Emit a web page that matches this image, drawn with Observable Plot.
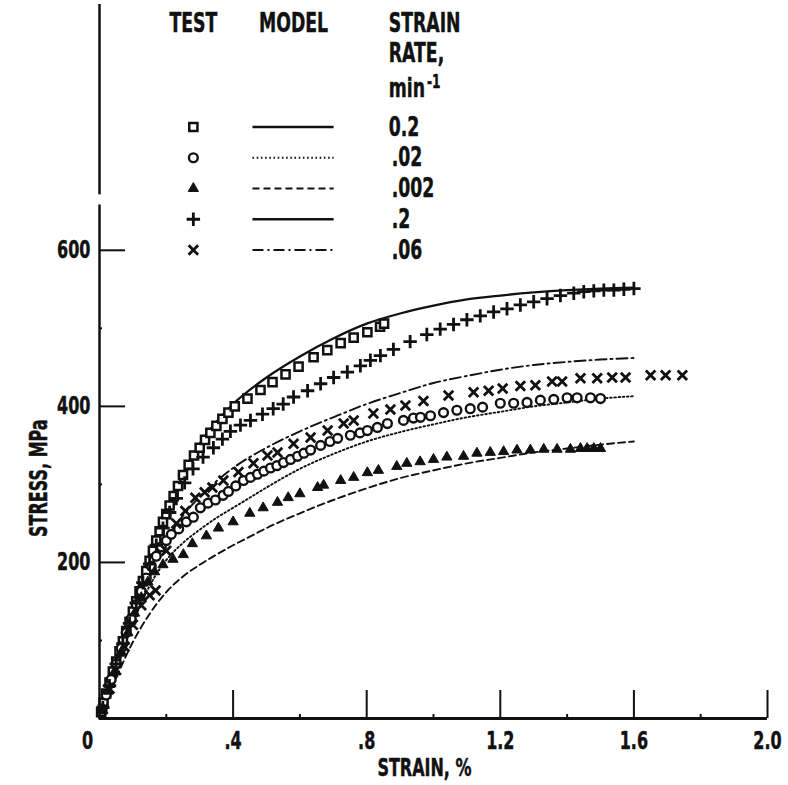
<!DOCTYPE html>
<html><head><meta charset="utf-8">
<script src="https://cdn.jsdelivr.net/npm/d3@7"></script>
<script src="https://cdn.jsdelivr.net/npm/@observablehq/plot@0.6"></script>
<style>
body{margin:0;background:#fff;}
#chart svg{display:block;}
</style></head><body><div id="chart"></div>
<script>
// ---- data: [strain %, stress MPa] ----
const squareTest = [[0.005,8],[0.012,20],[0.02,32],[0.03,46],[0.04,60],[0.05,73],[0.06,86],[0.07,99],[0.08,112],[0.09,124],[0.1,137],[0.11,150],[0.12,163],[0.13,176],[0.14,189],[0.15,202],[0.16,215],[0.17,228],[0.18,240],[0.19,252],[0.2,262],[0.21,273],[0.222,285],[0.235,298],[0.25,312],[0.267,325],[0.283,337],[0.3,347],[0.316,357],[0.332,366],[0.35,375],[0.368,384],[0.386,392],[0.405,400],[0.443,410],[0.482,421],[0.518,431],[0.557,441],[0.596,451],[0.641,463],[0.682,472],[0.722,481],[0.761,488],[0.802,495],[0.84,502],[0.852,506]];
const circleTest = [[0.008,12],[0.02,30],[0.035,50],[0.05,70],[0.065,90],[0.08,110],[0.095,128],[0.11,146],[0.125,163],[0.14,180],[0.155,195],[0.17,208],[0.185,220],[0.2,228],[0.215,236],[0.237,243],[0.26,252],[0.281,258],[0.302,270],[0.325,276],[0.347,280],[0.37,286],[0.386,291],[0.408,298],[0.431,305],[0.452,309],[0.473,313],[0.492,317],[0.512,321],[0.531,324],[0.551,328],[0.572,332],[0.593,336],[0.612,340],[0.632,344],[0.662,350],[0.69,355],[0.713,359],[0.751,363],[0.78,366],[0.802,369],[0.832,373],[0.862,378],[0.91,382],[0.94,385],[0.961,386],[0.991,388],[1.03,392],[1.07,395],[1.11,397],[1.147,399],[1.2,404],[1.24,404],[1.28,405],[1.32,408],[1.36,409],[1.4,411],[1.43,411],[1.47,411],[1.5,410]];
const triangleTest = [[0.008,12],[0.025,35],[0.045,60],[0.065,85],[0.085,110],[0.105,135],[0.125,155],[0.145,175],[0.165,188],[0.19,197],[0.22,204],[0.251,210],[0.278,224],[0.32,234],[0.356,244],[0.4,252],[0.45,263],[0.49,270],[0.533,277],[0.565,283],[0.6,288],[0.653,296],[0.671,299],[0.722,305],[0.761,309],[0.802,315],[0.835,318],[0.89,323],[0.92,327],[0.96,329],[1.0,332],[1.04,335],[1.09,336],[1.13,340],[1.17,341],[1.21,342],[1.25,344],[1.29,344],[1.33,345],[1.37,345],[1.41,345],[1.44,346],[1.46,346],[1.48,346],[1.5,346]];
const plusTest = [[0.01,14],[0.03,42],[0.05,70],[0.07,96],[0.09,122],[0.11,148],[0.13,174],[0.15,198],[0.17,222],[0.19,244],[0.21,264],[0.23,282],[0.255,302],[0.28,320],[0.31,335],[0.341,347],[0.368,358],[0.392,368],[0.422,376],[0.452,382],[0.488,390],[0.52,397],[0.55,403],[0.581,412],[0.623,420],[0.662,429],[0.701,437],[0.742,444],[0.781,452],[0.811,459],[0.841,465],[0.88,473],[0.93,483],[0.98,492],[1.02,499],[1.06,505],[1.1,511],[1.14,516],[1.18,521],[1.22,525],[1.26,530],[1.3,534],[1.34,538],[1.38,542],[1.42,545],[1.45,547],[1.48,548],[1.51,549],[1.54,549],[1.57,550],[1.6,551]];
const timesTest = [[0.01,12],[0.03,38],[0.05,62],[0.075,92],[0.1,120],[0.125,145],[0.15,158],[0.168,164],[0.2,215],[0.23,250],[0.257,266],[0.287,283],[0.315,290],[0.338,296],[0.371,305],[0.416,316],[0.461,327],[0.503,337],[0.533,341],[0.581,352],[0.632,360],[0.683,369],[0.731,378],[0.761,382],[0.82,391],[0.871,396],[0.916,401],[0.97,407],[1.045,414],[1.12,418],[1.165,420],[1.207,423],[1.26,426],[1.305,427],[1.355,432],[1.385,432],[1.44,436],[1.49,436],[1.535,437],[1.575,437],[1.65,440],[1.695,440],[1.745,440]];

const model02 = [[0,0],[0.05,70],[0.1,140],[0.15,205],[0.2,262],[0.25,312],[0.3,352],[0.35,380],[0.4,403],[0.5,437],[0.6,464],[0.7,487],[0.8,506],[0.9,519],[1.0,529],[1.1,537],[1.2,542],[1.3,546],[1.4,549],[1.5,551],[1.6,552]];
const model002 = [[0,0],[0.05,62],[0.1,122],[0.15,170],[0.2,203],[0.25,225],[0.3,242],[0.35,257],[0.4,270],[0.45,283],[0.5,296],[0.6,320],[0.7,339],[0.8,355],[0.9,367],[1.0,377],[1.1,386],[1.2,393],[1.3,400],[1.4,405],[1.5,410],[1.6,413]];
const model0002 = [[0,0],[0.05,52],[0.1,98],[0.15,134],[0.2,162],[0.25,182],[0.3,197],[0.35,210],[0.4,222],[0.45,233],[0.5,244],[0.6,263],[0.7,280],[0.8,295],[0.9,308],[1.0,318],[1.1,327],[1.2,334],[1.3,341],[1.4,346],[1.5,351],[1.6,355]];
const model006 = [[0,0],[0.05,65],[0.1,125],[0.15,183],[0.2,228],[0.25,260],[0.3,284],[0.35,304],[0.4,321],[0.5,347],[0.6,368],[0.7,386],[0.8,403],[0.9,417],[1.0,430],[1.1,439],[1.2,447],[1.3,453],[1.4,457],[1.5,460],[1.6,462]];

const rateLabels = ["0.2", ".02", ".002", ".2", ".06"];
const headerRate = ["STRAIN", "RATE,", "min"];
const headerSup = "-1";
const xTickValues = [0.4, 0.8, 1.2, 1.6, 2.0];
const xTickLabels = [".4", ".8", "1.2", "1.6", "2.0"];
const xMinorTicks = [0.2, 0.6, 1.0, 1.4, 1.8];
const yTickValues = [200, 400, 600];
const yMinorTicks = [100, 300, 500];

// ---- layout / styles ----
const W = 788, H = 785, mL = 99, mR = 21, mT = 4, mB = 67;
const xMax = 2.0, yMax = 915;
const pxX = (W - mL - mR) / xMax, pxY = (H - mT - mB) / yMax;
const FONT = "'DejaVu Sans',sans-serif";
const SQUEEZE = 0.64;   // horizontal condensing of lettering
const INK = "#111";

const toPts = a => a.map(([x, y]) => ({x, y}));
const series = [
  {test: squareTest, model: model02, symbol: "square", dash: null},
  {test: circleTest, model: model002, symbol: "circle", dash: "1.6,2.6"},
  {test: triangleTest, model: model0002, symbol: "triangle", dash: "7,4"},
  {test: plusTest, model: model02, symbol: "plus", dash: null},
  {test: timesTest, model: model006, symbol: "times", dash: "11,4,2,4"}
];
const symStyle = {
  square: {r: 4.6, fill: "#fff", stroke: INK, strokeWidth: 2.5},
  circle: {r: 4.4, fill: "#fff", stroke: INK, strokeWidth: 2.4},
  triangle: {r: 3.8, fill: INK, stroke: INK, strokeWidth: 1},
  plus: {r: 4.4, fill: "none", stroke: INK, strokeWidth: 2.8},
  times: {r: 4.4, fill: "none", stroke: INK, strokeWidth: 2.8}
};

const marks = [];
// model curves (the 0.2 model is shared by both 0.2 rate tests)
const drawnModels = new Set();
for (const s of series) {
  if (drawnModels.has(s.model)) continue;
  drawnModels.add(s.model);
  marks.push(Plot.line(toPts(s.model), {x: "x", y: "y", curve: "monotone-x", stroke: INK,
    strokeWidth: s.dash ? 1.9 : 2.3, strokeDasharray: s.dash || undefined}));
}
// test points
for (const s of series) {
  marks.push(Plot.dot(toPts(s.test), {x: "x", y: "y", symbol: s.symbol, ...symStyle[s.symbol]}));
}

// axes lines (y axis broken behind the legend)
marks.push(Plot.ruleY([0], {x1: 0, x2: xMax, stroke: INK, strokeWidth: 3}));
marks.push(Plot.ruleX([0], {y1: 0, y2: 658, stroke: INK, strokeWidth: 2.5}));
marks.push(Plot.ruleX([0], {y1: 671, y2: yMax, stroke: INK, strokeWidth: 2.5}));
// ticks (inward)
marks.push(Plot.ruleX(xTickValues, {x: d => d, y1: 0, y2: 28 / pxY, stroke: INK, strokeWidth: 2}));
marks.push(Plot.ruleX(xMinorTicks, {x: d => d, y1: 0, y2: 4 / pxY, stroke: INK, strokeWidth: 2}));
marks.push(Plot.ruleY(yTickValues, {y: d => d, x1: 0, x2: 26 / pxX, stroke: INK, strokeWidth: 2}));
marks.push(Plot.ruleY(yMinorTicks, {y: d => d, x1: 0, x2: 3 / pxX, stroke: INK, strokeWidth: 2}));
// tick labels
const tickFont = {fontFamily: FONT, fontWeight: "bold", fontSize: 25, fill: INK, stroke: INK, strokeWidth: 0.5};
marks.push(Plot.text(xTickValues, {x: d => d, y: 0, text: (d, i) => xTickLabels[i], dy: 22, lineAnchor: "middle", ...tickFont}));
marks.push(Plot.text([0], {x: 0, y: 0, text: () => "0", dx: -12, dy: 22, lineAnchor: "middle", ...tickFont}));
marks.push(Plot.text(yTickValues, {x: 0, y: d => d, text: d => String(d), textAnchor: "end", dx: -9, lineAnchor: "middle", ...tickFont}));
// axis titles
marks.push(Plot.text(["STRAIN, %"], {x: 0.973, y: 0, text: d => d, dy: 49, lineAnchor: "middle", ...tickFont}));
marks.push(Plot.text(["STRESS, MPa"], {x: 0, y: 308, text: d => d, dx: -61, rotate: -90, lineAnchor: "middle", ...tickFont}));

// legend (positions in data units)
const legTestX = 0.281, legLineX1 = 0.458, legLineX2 = 0.701, legRateX = 0.866, legModelX = 0.581;
const legRowY = i => 758 - i * 39.4;
const legHeadY = [891, 853, 807];
const legFont = {fontFamily: FONT, fontWeight: "bold", fontSize: 27, fill: INK, stroke: INK, strokeWidth: 0.5, lineAnchor: "middle"};
marks.push(Plot.text(["TEST"], {x: legTestX, y: legHeadY[0], text: d => d, ...legFont}));
marks.push(Plot.text(["MODEL"], {x: legModelX, y: legHeadY[0], text: d => d, ...legFont}));
marks.push(Plot.text(headerRate, {x: legRateX, y: (d, i) => legHeadY[i], text: d => d, textAnchor: "start", ...legFont}));
series.forEach((s, i) => {
  const row = [{i}];
  marks.push(Plot.dot(row, {x: legTestX, y: legRowY(i), symbol: s.symbol, ...symStyle[s.symbol]}));
  marks.push(Plot.link(row, {x1: legLineX1, x2: legLineX2, y1: legRowY(i), y2: legRowY(i), stroke: INK,
    strokeWidth: s.dash ? 1.9 : 2.3, strokeDasharray: s.dash || undefined}));
  marks.push(Plot.text(row, {x: legRateX, y: legRowY(i), text: () => rateLabels[i], textAnchor: "start", dx: i === 0 ? 0 : 3, ...legFont}));
});

const chart = Plot.plot({
  width: W, height: H,
  marginLeft: mL, marginRight: mR, marginTop: mT, marginBottom: mB,
  x: {domain: [0, xMax], axis: null},
  y: {domain: [0, yMax], axis: null},
  style: {background: "#fff", fontFamily: FONT},
  marks
});
document.getElementById("chart").append(chart);

// superscript on "min" (same text element)
d3.select(chart).selectAll("text").filter(function() { return this.textContent === headerRate[2]; })
  .append("tspan").attr("dx", 3).attr("dy", -9).attr("font-size", 19).text(headerSup);

// condense the lettering (scale horizontally about each label's anchor)
d3.select(chart).selectAll("text").each(function() {
  const x = +(this.getAttribute("x") || 0), y = +(this.getAttribute("y") || 0);
  let t = this.getAttribute("transform") || "";
  if (x || y) {
    t = `${t} translate(${x},${y})`;
    this.removeAttribute("x"); this.removeAttribute("y");
  }
  this.setAttribute("transform", `${t} scale(${SQUEEZE},1)`);
});
</script>
</body></html>
